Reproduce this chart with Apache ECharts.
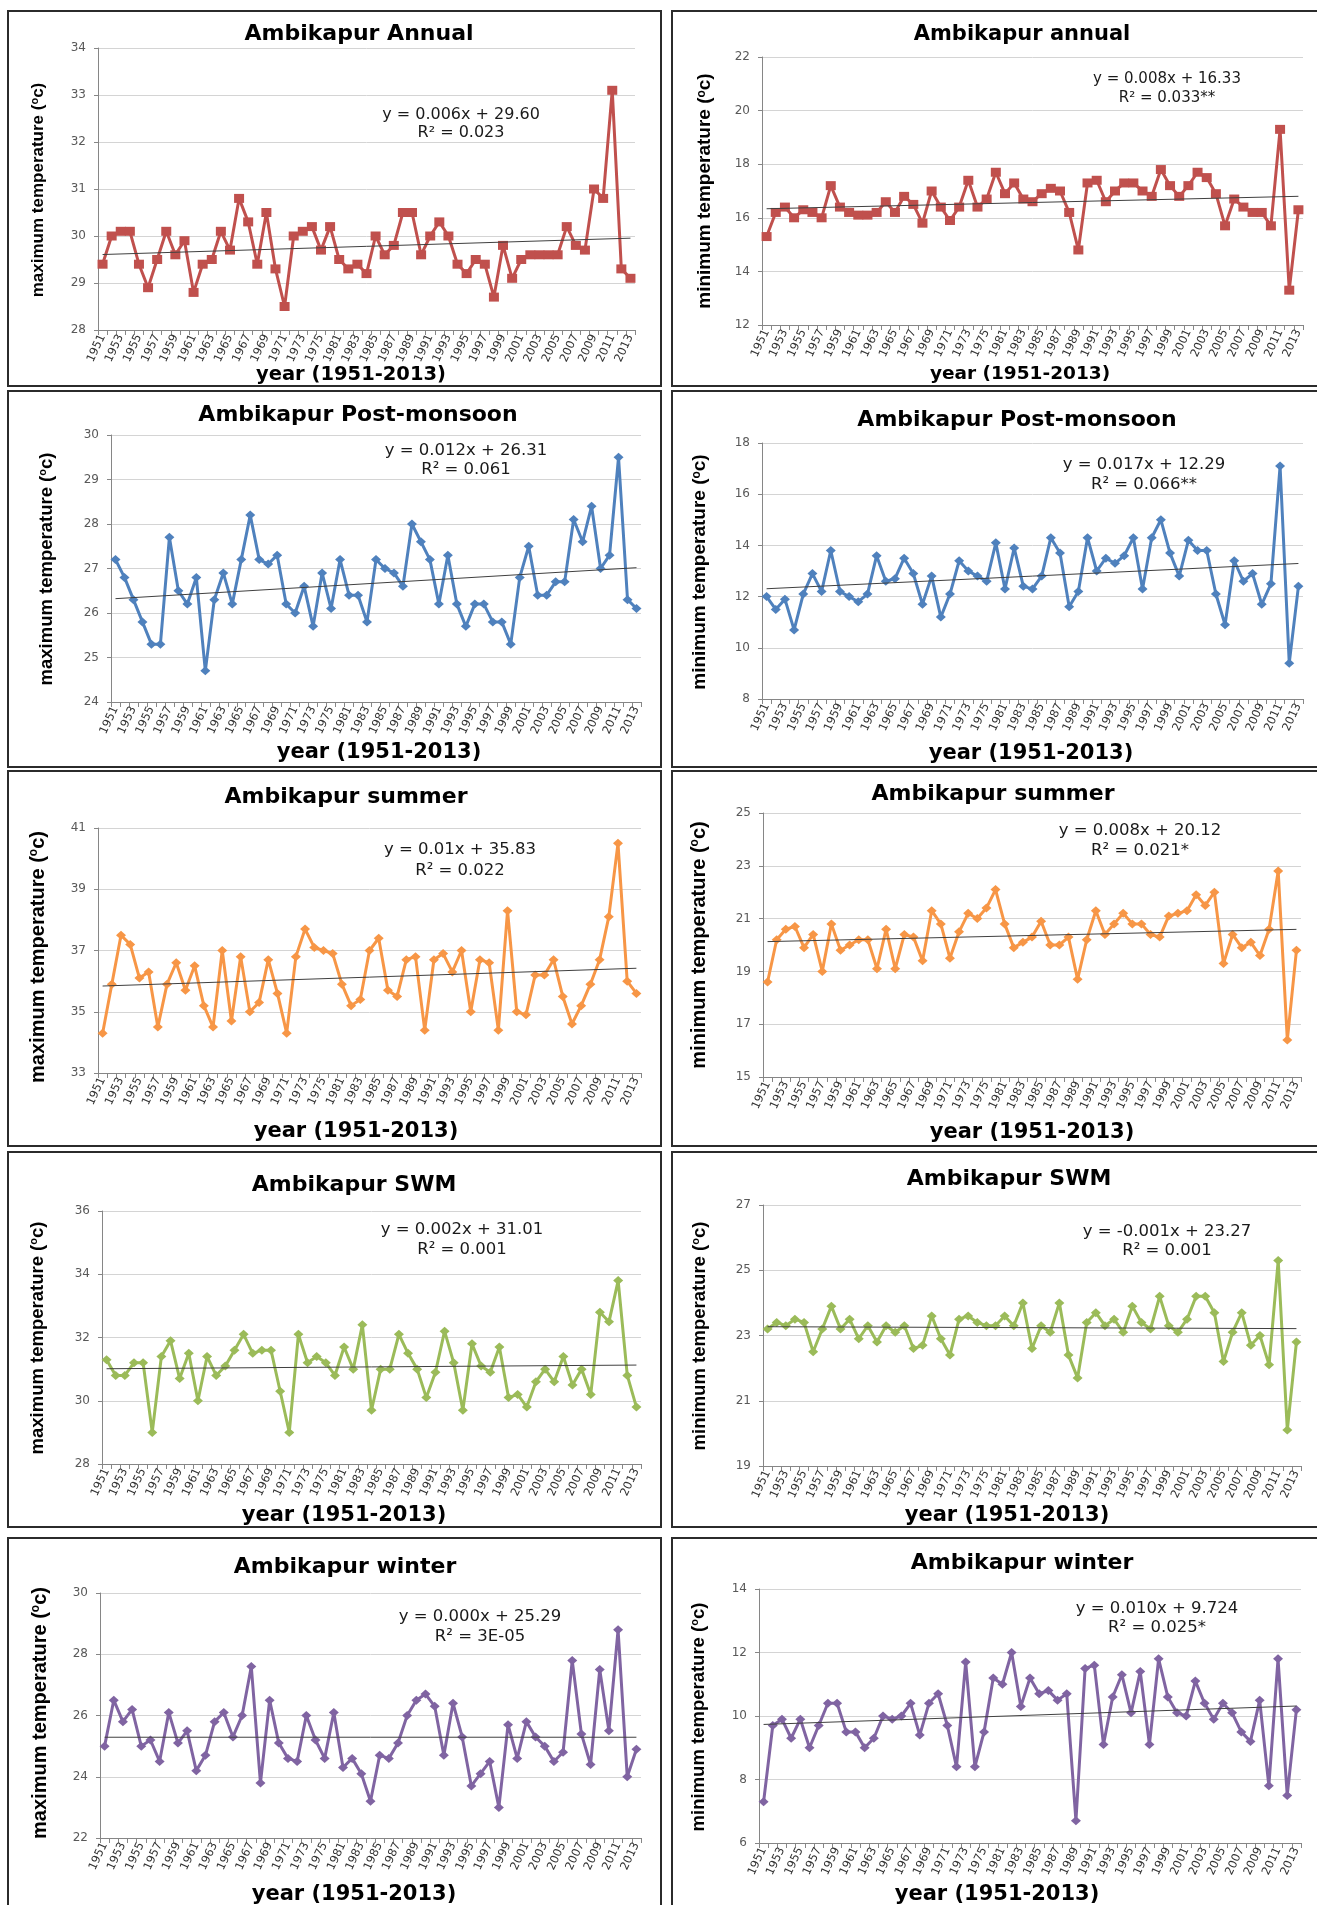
<!DOCTYPE html>
<html>
<head>
<meta charset="utf-8">
<title>Ambikapur temperature 1951-2013</title>
<script src="https://cdn.jsdelivr.net/npm/echarts@6/dist/echarts.min.js"></script>
<style>
  html, body { margin: 0; padding: 0; background: #fff; overflow: hidden; }
  #chart { width: 1317px; height: 1905px; }
</style>
</head>
<body>
<div id="chart"></div>
<script>
// categories: the series skips 1977-1980, so 59 years
const years = ['1951','1952','1953','1954','1955','1956','1957','1958','1959','1960',
  '1961','1962','1963','1964','1965','1966','1967','1968','1969','1970',
  '1971','1972','1973','1974','1975','1976','1981','1982','1983','1984',
  '1985','1986','1987','1988','1989','1990','1991','1992','1993','1994',
  '1995','1996','1997','1998','1999','2000','2001','2002','2003','2004',
  '2005','2006','2007','2008','2009','2010','2011','2012','2013'];

// values
const annualMax = [29.4,30.0,30.1,30.1,29.4,28.9,29.5,30.1,29.6,29.9, 28.8,29.4,29.5,30.1,29.7,30.8,30.3,29.4,30.5,29.3,
  28.5,30.0,30.1,30.2,29.7,30.2,29.5,29.3,29.4,29.2, 30.0,29.6,29.8,30.5,30.5,29.6,30.0,30.3,30.0,29.4,
  29.2,29.5,29.4,28.7,29.8,29.1,29.5,29.6,29.6,29.6, 29.6,30.2,29.8,29.7,31.0,30.8,33.1,29.3,29.1];
const annualMin = [15.3,16.2,16.4,16.0,16.3,16.2,16.0,17.2,16.4,16.2, 16.1,16.1,16.2,16.6,16.2,16.8,16.5,15.8,17.0,16.4,
  15.9,16.4,17.4,16.4,16.7,17.7,16.9,17.3,16.7,16.6, 16.9,17.1,17.0,16.2,14.8,17.3,17.4,16.6,17.0,17.3,
  17.3,17.0,16.8,17.8,17.2,16.8,17.2,17.7,17.5,16.9, 15.7,16.7,16.4,16.2,16.2,15.7,19.3,13.3,16.3];
const postMax = [27.2,26.8,26.3,25.8,25.3,25.3,27.7,26.5,26.2,26.8, 24.7,26.3,26.9,26.2,27.2,28.2,27.2,27.1,27.3,26.2,
  26.0,26.6,25.7,26.9,26.1,27.2,26.4,26.4,25.8,27.2, 27.0,26.9,26.6,28.0,27.6,27.2,26.2,27.3,26.2,25.7,
  26.2,26.2,25.8,25.8,25.3,26.8,27.5,26.4,26.4,26.7, 26.7,28.1,27.6,28.4,27.0,27.3,29.5,26.3,26.1];
const postMin = [12.0,11.5,11.9,10.7,12.1,12.9,12.2,13.8,12.2,12.0, 11.8,12.1,13.6,12.6,12.7,13.5,12.9,11.7,12.8,11.2,
  12.1,13.4,13.0,12.8,12.6,14.1,12.3,13.9,12.4,12.3, 12.8,14.3,13.7,11.6,12.2,14.3,13.0,13.5,13.3,13.6,
  14.3,12.3,14.3,15.0,13.7,12.8,14.2,13.8,13.8,12.1, 10.9,13.4,12.6,12.9,11.7,12.5,17.1,9.4,12.4];
const summerMax = [34.3,35.9,37.5,37.2,36.1,36.3,34.5,35.9,36.6,35.7, 36.5,35.2,34.5,37.0,34.7,36.8,35.0,35.3,36.7,35.6,
  34.3,36.8,37.7,37.1,37.0,36.9,35.9,35.2,35.4,37.0, 37.4,35.7,35.5,36.7,36.8,34.4,36.7,36.9,36.3,37.0,
  35.0,36.7,36.6,34.4,38.3,35.0,34.9,36.2,36.2,36.7, 35.5,34.6,35.2,35.9,36.7,38.1,40.5,36.0,35.6];
const summerMin = [18.6,20.2,20.6,20.7,19.9,20.4,19.0,20.8,19.8,20.0, 20.2,20.2,19.1,20.6,19.1,20.4,20.3,19.4,21.3,20.8,
  19.5,20.5,21.2,21.0,21.4,22.1,20.8,19.9,20.1,20.3, 20.9,20.0,20.0,20.3,18.7,20.2,21.3,20.4,20.8,21.2,
  20.8,20.8,20.4,20.3,21.1,21.2,21.3,21.9,21.5,22.0, 19.3,20.4,19.9,20.1,19.6,20.6,22.8,16.4,19.8];
const swmMax = [31.3,30.8,30.8,31.2,31.2,29.0,31.4,31.9,30.7,31.5, 30.0,31.4,30.8,31.1,31.6,32.1,31.5,31.6,31.6,30.3,
  29.0,32.1,31.2,31.4,31.2,30.8,31.7,31.0,32.4,29.7, 31.0,31.0,32.1,31.5,31.0,30.1,30.9,32.2,31.2,29.7,
  31.8,31.1,30.9,31.7,30.1,30.2,29.8,30.6,31.0,30.6, 31.4,30.5,31.0,30.2,32.8,32.5,33.8,30.8,29.8];
const swmMin = [23.2,23.4,23.3,23.5,23.4,22.5,23.2,23.9,23.2,23.5, 22.9,23.3,22.8,23.3,23.1,23.3,22.6,22.7,23.6,22.9,
  22.4,23.5,23.6,23.4,23.3,23.3,23.6,23.3,24.0,22.6, 23.3,23.1,24.0,22.4,21.7,23.4,23.7,23.3,23.5,23.1,
  23.9,23.4,23.2,24.2,23.3,23.1,23.5,24.2,24.2,23.7, 22.2,23.1,23.7,22.7,23.0,22.1,25.3,20.1,22.8];
const winterMax = [25.0,26.5,25.8,26.2,25.0,25.2,24.5,26.1,25.1,25.5, 24.2,24.7,25.8,26.1,25.3,26.0,27.6,23.8,26.5,25.1,
  24.6,24.5,26.0,25.2,24.6,26.1,24.3,24.6,24.1,23.2, 24.7,24.6,25.1,26.0,26.5,26.7,26.3,24.7,26.4,25.3,
  23.7,24.1,24.5,23.0,25.7,24.6,25.8,25.3,25.0,24.5, 24.8,27.8,25.4,24.4,27.5,25.5,28.8,24.0,24.9];
const winterMin = [7.3,9.7,9.9,9.3,9.9,9.0,9.7,10.4,10.4,9.5, 9.5,9.0,9.3,10.0,9.9,10.0,10.4,9.4,10.4,10.7,
  9.7,8.4,11.7,8.4,9.5,11.2,11.0,12.0,10.3,11.2, 10.7,10.8,10.5,10.7,6.7,11.5,11.6,9.1,10.6,11.3,
  10.1,11.4,9.1,11.8,10.6,10.1,10.0,11.1,10.4,9.9, 10.4,10.1,9.5,9.2,10.5,7.8,11.8,7.5,10.2];

// panel order: left = max, right = min, rows annual/post-monsoon/summer/SWM/winter
const seriesValues = [annualMax, annualMin, postMax, postMin, summerMax, summerMin, swmMax, swmMin, winterMax, winterMin];
const titles = ['Ambikapur Annual', 'Ambikapur annual', 'Ambikapur Post-monsoon', 'Ambikapur Post-monsoon',
  'Ambikapur summer', 'Ambikapur summer', 'Ambikapur SWM', 'Ambikapur SWM', 'Ambikapur winter', 'Ambikapur winter'];
const yMin = [28, 12, 24, 8, 33, 15, 28, 19, 22, 6];
const yMax = [34, 22, 30, 18, 41, 25, 36, 27, 30, 14];
const yStep = [1, 2, 1, 2, 2, 2, 2, 2, 2, 2];
// printed trend lines (x = 1..59)
const slopes = [0.006, 0.008, 0.012, 0.017, 0.01, 0.008, 0.002, -0.001, 0.000, 0.010];
const intercepts = [29.60, 16.33, 26.31, 12.29, 35.83, 20.12, 31.01, 23.27, 25.29, 9.724];
const eqLabels = ['y = 0.006x + 29.60', 'y = 0.008x + 16.33', 'y = 0.012x + 26.31', 'y = 0.017x + 12.29',
  'y = 0.01x + 35.83', 'y = 0.008x + 20.12', 'y = 0.002x + 31.01', 'y = -0.001x + 23.27',
  'y = 0.000x + 25.29', 'y = 0.010x + 9.724'];
const r2Labels = ['R² = 0.023', 'R² = 0.033**', 'R² = 0.061', 'R² = 0.066**', 'R² = 0.022',
  'R² = 0.021*', 'R² = 0.001', 'R² = 0.001', 'R² = 3E-05', 'R² = 0.025*'];

// layout (page pixels)
const rows = [[11, 375], [391, 376], [771, 375], [1152, 375], [1538, 374]];
const plots = [[98, 48, 537, 282], [762, 57, 541, 268], [111, 435, 530, 267], [762, 443, 541, 256],
  [98, 828, 543, 245], [763, 813, 538, 264], [102, 1211, 539, 253], [763, 1205, 538, 261],
  [100, 1593, 541, 245], [759, 1589, 542, 254]];
const titlePos = [[359, 34, 22], [1022, 35, 21], [358, 415, 22], [1017, 420, 22], [346, 797, 22],
  [993, 794, 22], [354, 1185, 22], [1009, 1179, 22], [345, 1567, 22], [1022, 1563, 22]];
const xNamePos = [[351, 375, 19.5], [1020, 374, 18.5], [379, 753, 21], [1031, 754, 21], [356, 1132, 21],
  [1032, 1133, 21], [344, 1516, 21], [1007, 1516, 21], [354, 1895, 21], [997, 1895, 21]];
const yNamePos = [[38, 190, 17], [705, 191, 19], [47, 569, 18.5], [700, 572, 19], [38, 957, 20],
  [699, 945, 20], [38, 1338, 18.5], [700, 1336, 18.5], [40, 1713, 20], [699, 1717, 18.5]];
const eqPos = [[461, 115, 133, 16], [1167, 79, 98, 15], [466, 451, 470, 16.5], [1144, 465, 485, 16.5],
  [460, 850, 871, 16.5], [1140, 831, 851, 16.5], [462, 1230, 1250, 16.5], [1167, 1232, 1251, 16.5],
  [480, 1617, 1637, 16.5], [1157, 1609, 1628, 16.5]];
const rowColors = ['#C0504D', '#4F81BD', '#F79646', '#9BBB59', '#8064A2'];

const chart = echarts.init(document.getElementById('chart'));

const grids = [], xAxes = [], yAxes = [], series = [], graphics = [];

seriesValues.forEach((vals, i) => {
  const row = Math.floor(i / 2);
  const left = i % 2 === 0;
  const color = rowColors[row];
  const p = plots[i];

  // panel frame
  graphics.push({
    type: 'rect', silent: true, z: 0,
    shape: left ? { x: 8, y: rows[row][0], width: 653, height: rows[row][1] }
                : { x: 672, y: rows[row][0], width: 652, height: rows[row][1] },
    style: { fill: 'none', stroke: '#2b2b2b', lineWidth: 2 }
  });

  grids.push({ left: p[0], top: p[1], width: p[2], height: p[3] });

  xAxes.push({
    type: 'category', gridIndex: i, data: years, boundaryGap: true,
    axisLine: { lineStyle: { color: '#868686', width: 1 } },
    axisTick: { show: true, interval: 0, length: 5, lineStyle: { color: '#868686' } },
    axisLabel: { interval: 1, rotate: 65, fontSize: 11.5, color: '#333', fontFamily: 'DejaVu Sans', margin: 5 },
    splitLine: { show: false }
  });

  yAxes.push({
    type: 'value', gridIndex: i, min: yMin[i], max: yMax[i], interval: yStep[i],
    axisLine: { show: true, lineStyle: { color: '#868686', width: 1 } },
    axisTick: { show: true, length: 4, lineStyle: { color: '#868686' } },
    axisLabel: { fontSize: 12, color: '#595959', fontFamily: 'DejaVu Sans', margin: 12 },
    splitLine: { show: true, lineStyle: { color: '#d4d4d4', width: 1 } }
  });

  series.push({
    type: 'line', xAxisIndex: i, yAxisIndex: i, data: vals,
    showSymbol: true, showAllSymbol: true,
    symbol: row === 0 ? 'rect' : 'diamond',
    symbolSize: row === 0 ? [10, 9] : [10, 9],
    lineStyle: { color: color, width: 3 },
    itemStyle: { color: color },
    z: 2
  });

  const n = vals.length;
  series.push({
    type: 'line', xAxisIndex: i, yAxisIndex: i,
    data: [[0, intercepts[i] + slopes[i] * 1], [n - 1, intercepts[i] + slopes[i] * n]],
    symbol: 'none', silent: true,
    lineStyle: { color: '#404040', width: 1 },
    z: 3
  });

  const t = titlePos[i];
  graphics.push({
    type: 'text', x: t[0], y: t[1], z: 10,
    style: { text: titles[i], fontSize: t[2], fontWeight: 'bold', fontFamily: 'DejaVu Sans',
      fill: '#000', align: 'center', verticalAlign: 'middle' }
  });

  const xn = xNamePos[i];
  graphics.push({
    type: 'text', x: xn[0], y: xn[1], z: 10,
    style: { text: 'year (1951-2013)', fontSize: xn[2], fontWeight: 'bold', fontFamily: 'DejaVu Sans',
      fill: '#000', align: 'center', verticalAlign: 'middle' }
  });

  const yn = yNamePos[i];
  graphics.push({
    type: 'text', x: yn[0], y: yn[1], rotation: Math.PI / 2, z: 10,
    style: {
      text: (left ? 'maximum' : 'minimum') + ' temperature ({s|o}c)',
      fontSize: yn[2], fontWeight: 'bold', fontFamily: 'Liberation Sans',
      fill: '#000', align: 'center', verticalAlign: 'middle',
      rich: { s: { fontSize: Math.round(yn[2] * 0.62), fontWeight: 'bold', fontFamily: 'Liberation Sans',
        fill: '#000', verticalAlign: 'top' } }
    }
  });

  const e = eqPos[i];
  graphics.push({
    type: 'text', x: e[0], y: e[1], z: 10,
    style: { text: eqLabels[i], fontSize: e[3], fontFamily: 'DejaVu Sans', fill: '#1a1a1a',
      align: 'center', verticalAlign: 'middle' }
  });
  graphics.push({
    type: 'text', x: e[0], y: e[2], z: 10,
    style: { text: r2Labels[i], fontSize: e[3], fontFamily: 'DejaVu Sans', fill: '#1a1a1a',
      align: 'center', verticalAlign: 'middle' }
  });
});

chart.setOption({
  animation: false,
  backgroundColor: '#fff',
  textStyle: { fontFamily: 'DejaVu Sans' },
  grid: grids,
  xAxis: xAxes,
  yAxis: yAxes,
  series: series,
  graphic: graphics
});
</script>
</body>
</html>
